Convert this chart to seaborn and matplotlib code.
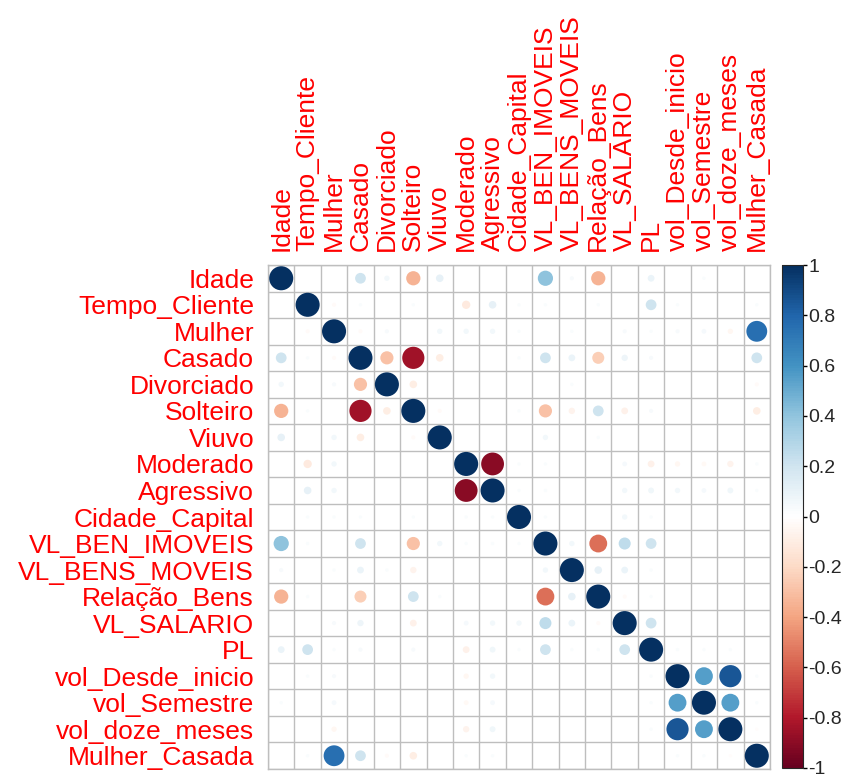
import numpy as np
import pandas as pd
import matplotlib
matplotlib.use("Agg")
import matplotlib.pyplot as plt
from matplotlib.colors import LinearSegmentedColormap, Normalize
from matplotlib.cm import ScalarMappable
import seaborn as sns

labels = ["Idade", "Tempo_Cliente", "Mulher", "Casado", "Divorciado", "Solteiro",
          "Viuvo", "Moderado", "Agressivo", "Cidade_Capital", "VL_BEN_IMOVEIS",
          "VL_BENS_MOVEIS", "Relação_Bens", "VL_SALARIO", "PL", "vol_Desde_inicio",
          "vol_Semestre", "vol_doze_meses", "Mulher_Casada"]

# upper triangle rows: row k holds correlations with columns k+1 .. 18
upper_rows = [
    [0.0, 0.0, 0.2, 0.05, -0.35, 0.1, 0.0, 0.0, 0.0, 0.4, 0.03, -0.35, 0.0, 0.08, 0.0, 0.02, 0.0, 0.0],
    [-0.03, 0.02, 0.0, 0.02, 0.0, -0.12, 0.1, 0.02, 0.02, 0.0, 0.02, 0.0, 0.2, 0.02, 0.0, 0.0, 0.02],
    [-0.03, 0.03, 0.0, 0.05, 0.05, 0.05, 0.02, 0.0, 0.02, 0.0, 0.03, 0.02, 0.03, 0.04, -0.05, 0.75],
    [-0.3, -0.85, -0.1, 0.0, 0.0, 0.02, 0.2, 0.08, -0.25, 0.07, 0.03, 0.0, 0.0, 0.0, 0.2],
    [-0.1, 0.0, 0.0, 0.0, 0.0, 0.0, 0.02, 0.0, 0.0, 0.0, 0.0, 0.0, 0.0, -0.03],
    [-0.03, 0.0, 0.0, 0.02, -0.3, -0.07, 0.2, -0.08, 0.03, 0.0, 0.0, 0.0, -0.1],
    [0.0, 0.0, 0.0, 0.05, 0.0, 0.02, 0.0, 0.0, 0.0, 0.0, 0.0, 0.0],
    [-0.9, 0.02, 0.02, 0.0, 0.0, 0.04, -0.08, -0.05, -0.04, -0.07, 0.02],
    [0.02, 0.02, 0.0, 0.0, 0.05, 0.06, 0.05, 0.04, 0.06, 0.02],
    [0.02, 0.0, 0.0, 0.05, 0.02, 0.0, 0.0, 0.0, 0.0],
    [0.05, -0.55, 0.25, 0.2, 0.0, 0.0, 0.0, 0.0],
    [0.1, 0.08, 0.02, 0.0, 0.0, 0.0, 0.0],
    [-0.03, 0.02, 0.0, 0.0, 0.0, 0.0],
    [0.2, 0.0, 0.0, 0.0, 0.0],
    [0.02, 0.02, 0.02, 0.0],
    [0.55, 0.85, 0.02],
    [0.55, 0.02],
    [-0.02],
]

colorbar_ticks = [1, 0.8, 0.6, 0.4, 0.2, 0, -0.2, -0.4, -0.6, -0.8, -1]

n = len(labels)
corr = np.eye(n)
for i, row in enumerate(upper_rows):
    for k, v in enumerate(row):
        j = i + 1 + k
        corr[i, j] = v
        corr[j, i] = v

recs = []
for i in range(n):
    for j in range(n):
        recs.append({"x": j, "y": i, "r": corr[i, j], "a": abs(corr[i, j])})
df = pd.DataFrame(recs)
df = df[df["a"] > 0]

cmap = LinearSegmentedColormap.from_list(
    "corrplot_rdbu",
    ["#67001F", "#B2182B", "#D6604D", "#F4A582", "#FDDBC7", "#FFFFFF",
     "#D1E5F0", "#92C5DE", "#4393C3", "#2166AC", "#053061"], N=200)

sns.set_style("white")
plt.rcParams["font.family"] = ["Liberation Sans", "DejaVu Sans"]

W, H = 843, 778
fig = plt.figure(figsize=(W / 100, H / 100), dpi=100)
ax = fig.add_axes([268 / W, 1 - 769 / H, (770 - 268) / W, (769 - 265) / H])

sns.scatterplot(data=df, x="x", y="y", hue="r", size="a", palette=cmap,
                hue_norm=(-1, 1), size_norm=(0, 1), sizes=(0, 300),
                marker="o", linewidth=0, legend=False, ax=ax, zorder=3)

ax.set_xlim(-0.5, n - 0.5)
ax.set_ylim(n - 0.5, -0.5)
ax.set_xticks(np.arange(n))
ax.set_yticks(np.arange(n))
ax.set_xticklabels(labels, rotation=90, color="#FF0000", fontsize=19)
ax.set_yticklabels(labels, color="#FF0000", fontsize=19)
ax.xaxis.tick_top()
ax.tick_params(length=0, pad=10)
ax.set_xlabel("")
ax.set_ylabel("")
ax.set_xticks(np.arange(-0.5, n, 1), minor=True)
ax.set_yticks(np.arange(-0.5, n, 1), minor=True)
ax.tick_params(which="minor", length=0)
ax.grid(which="minor", color="#BEBEBE", linewidth=1.0, zorder=1)
ax.grid(which="major", visible=False)
for s in ax.spines.values():
    s.set_color("#BEBEBE")
    s.set_linewidth(1.0)

cax = fig.add_axes([782 / W, 1 - 768 / H, 21 / W, (768 - 265) / H])
sm = ScalarMappable(norm=Normalize(-1, 1), cmap=cmap)
cb = fig.colorbar(sm, cax=cax, ticks=colorbar_ticks)
cb.ax.set_yticklabels([("%g" % t) for t in colorbar_ticks], fontsize=14)
cb.ax.tick_params(length=3, width=1, color="black", pad=1)
cb.outline.set_linewidth(0.8)

fig.savefig("out.png", dpi=100)
